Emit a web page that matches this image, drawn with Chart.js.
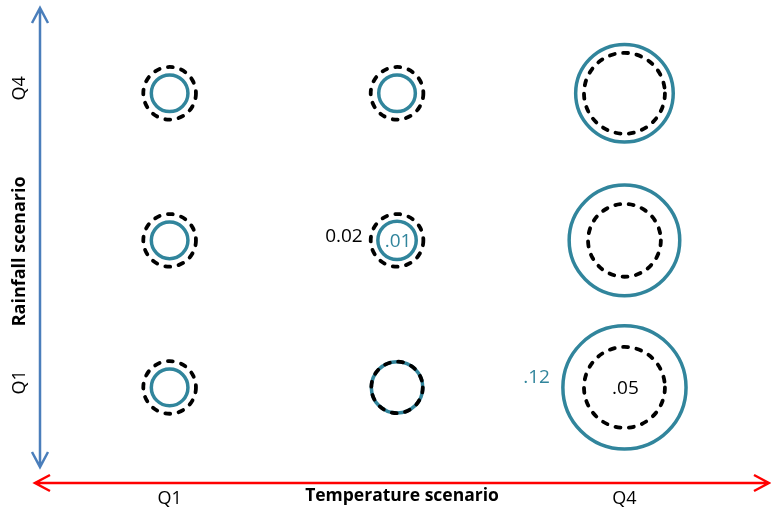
<!DOCTYPE html>
<html>
<head>
<meta charset="utf-8">
<script src="https://cdn.jsdelivr.net/npm/chart.js@4"></script>
<style>
  html, body { margin: 0; padding: 0; background: #fff; overflow: hidden; }
  #wrap { width: 771px; height: 517px; }
</style>
</head>
<body>
<div id="wrap"><canvas id="bubbleChart"></canvas></div>
<script>
// temperature columns (x) and rainfall rows (y)
const xLevels = [1, 2, 3];
const yLevels = [1, 2, 3];
const xTickLabels = ['Q1', '', 'Q4'];
const yTickLabels = ['Q1', '', 'Q4'];

// values per cell, row by row (Q1 row, middle row, Q4 row), columns left to right
const solidValues = [
    [0.009, 0.019, 0.12],
    [0.009, 0.01, 0.096],
    [0.009, 0.009, 0.074]
];
const dashedValues = [
    [0.02, 0.019, 0.05],
    [0.02, 0.02, 0.04],
    [0.02, 0.02, 0.05]
];

// printed values: [series, row, col, text]
const valueLabels = [
    [0, 1, 1, '.01'],
    [1, 1, 1, '0.02'],
    [0, 0, 2, '.12'],
    [1, 0, 2, '.05']
];

const teal = '#31859c';
const font = '"Open Sans", "Liberation Sans", sans-serif';

function radiusOf(v) {
    return 2 + 172 * Math.sqrt(v);
}

function toPoints(values) {
    const pts = [];
    yLevels.forEach((y, ri) => {
        xLevels.forEach((x, ci) => {
            pts.push({ x: x, y: y, r: radiusOf(values[ri][ci]) });
        });
    });
    return pts;
}

const decorPlugin = {
    id: 'decor',
    beforeDatasetDraw(chart, args) {
        if (args.index === 1) {
            chart.ctx.save();
            chart.ctx.setLineDash([5, 8.5]);
            chart.ctx.lineCap = 'round';
        }
    },
    afterDatasetDraw(chart, args) {
        if (args.index === 1) chart.ctx.restore();
    },
    afterDraw(chart) {
        const ctx = chart.ctx;
        const area = chart.chartArea;
        const xs = chart.scales.x, ys = chart.scales.y;

        ctx.save();
        // vertical axis arrow
        ctx.strokeStyle = '#4a7ebb';
        ctx.lineWidth = 2.5;
        ctx.beginPath();
        ctx.moveTo(area.left, area.top);
        ctx.lineTo(area.left, area.bottom - 16);
        ctx.moveTo(area.left - 8, area.top + 15);
        ctx.lineTo(area.left, area.top);
        ctx.lineTo(area.left + 8, area.top + 15);
        ctx.moveTo(area.left - 8, area.bottom - 31);
        ctx.lineTo(area.left, area.bottom - 16);
        ctx.lineTo(area.left + 8, area.bottom - 31);
        ctx.stroke();

        // horizontal axis arrow
        ctx.strokeStyle = '#ff0000';
        ctx.beginPath();
        ctx.moveTo(area.left - 5, area.bottom);
        ctx.lineTo(area.right - 1, area.bottom);
        ctx.moveTo(area.left + 10, area.bottom - 8);
        ctx.lineTo(area.left - 5, area.bottom);
        ctx.lineTo(area.left + 10, area.bottom + 8);
        ctx.moveTo(area.right - 16, area.bottom - 8);
        ctx.lineTo(area.right - 1, area.bottom);
        ctx.lineTo(area.right - 16, area.bottom + 8);
        ctx.stroke();

        // tick labels
        ctx.fillStyle = '#000';
        ctx.font = '18px ' + font;
        ctx.textAlign = 'center';
        ctx.textBaseline = 'middle';
        xLevels.forEach((v, i) => {
            ctx.fillText(xTickLabels[i], xs.getPixelForValue(v), area.bottom + 16);
        });
        yLevels.forEach((v, i) => {
            ctx.save();
            ctx.translate(20, ys.getPixelForValue(v) - 5);
            ctx.rotate(-Math.PI / 2);
            ctx.fillText(yTickLabels[i], 0, 0);
            ctx.restore();
        });

        // axis titles
        ctx.font = 'bold 17.5px ' + font;
        ctx.fillText('Temperature scenario', (area.left + area.right) / 2 - 3, area.bottom + 13);
        ctx.font = 'bold 18px ' + font;
        ctx.save();
        ctx.translate(20, ys.getPixelForValue(2) + 11);
        ctx.rotate(-Math.PI / 2);
        ctx.fillText('Rainfall scenario', 0, 0);
        ctx.restore();

        // printed values
        ctx.font = '19px ' + font;
        valueLabels.forEach(([s, ri, ci, text]) => {
            const el = chart.getDatasetMeta(s).data[ri * xLevels.length + ci];
            const r = el.options.radius;
            if (s === 0 && ci === 2) {
                ctx.fillStyle = teal;
                ctx.textAlign = 'right';
                ctx.fillText(text, el.x - r - 13, el.y - 10);
            } else if (s === 1 && ci === 1) {
                ctx.fillStyle = '#000';
                ctx.textAlign = 'right';
                ctx.fillText(text, el.x - r - 8, el.y - 4);
            } else {
                ctx.fillStyle = s === 0 ? teal : '#000';
                ctx.textAlign = 'center';
                ctx.fillText(text, el.x + 1, el.y + 1);
            }
        });
        ctx.restore();
    }
};

new Chart(document.getElementById('bubbleChart'), {
    type: 'bubble',
    data: {
        datasets: [
            {
                label: 'solid',
                data: toPoints(solidValues),
                borderColor: teal,
                backgroundColor: 'rgba(0,0,0,0)',
                borderWidth: 3.5,
                order: 2,
                clip: false
            },
            {
                label: 'dashed',
                data: toPoints(dashedValues),
                borderColor: '#000',
                backgroundColor: 'rgba(0,0,0,0)',
                borderWidth: 3.8,
                order: 1,
                clip: false
            }
        ]
    },
    options: {
        responsive: true,
        maintainAspectRatio: false,
        animation: false,
        events: [],
        layout: { autoPadding: false, padding: { left: 40, right: 1, top: 8, bottom: 34 } },
        plugins: { legend: { display: false }, tooltip: { enabled: false } },
        scales: {
            x: { display: false, min: 0.43, max: 3.64 },
            y: { display: false, min: 0.35, max: 3.58 }
        }
    },
    plugins: [decorPlugin]
});
</script>
</body>
</html>
